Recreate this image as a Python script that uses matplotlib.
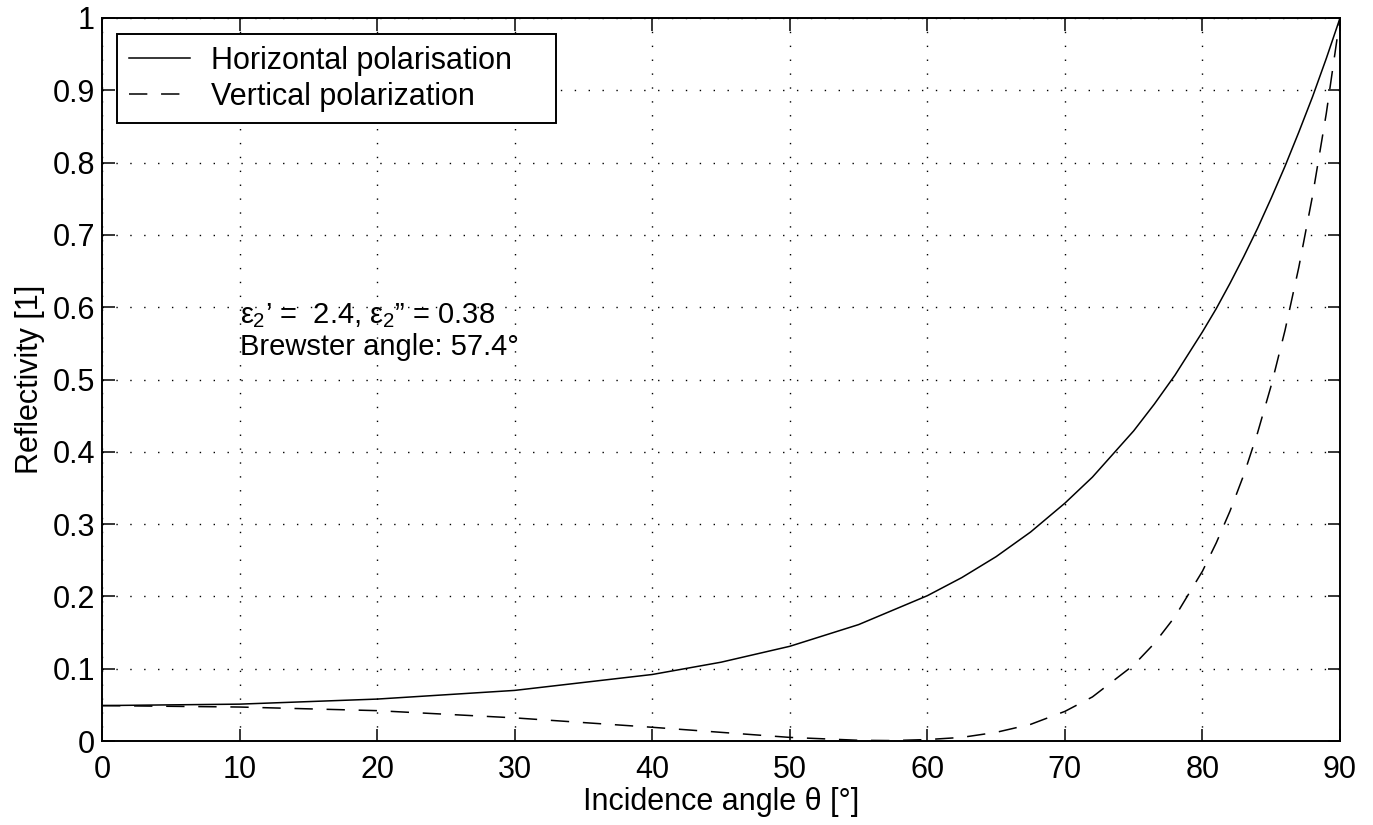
"""Reflectivity of a lossy dielectric vs incidence angle (MATLAB-style figure)."""
import matplotlib
matplotlib.use("Agg")
import matplotlib.pyplot as plt

# values
theta_h = [0, 10, 20, 30, 40, 45, 50, 55, 60, 62.5, 65, 67.5, 70, 72, 75, 76.5, 78,
           80, 81, 82, 83, 84, 85, 86, 87, 88, 89, 90]
refl_h = [0.049, 0.051, 0.058, 0.070, 0.092, 0.109, 0.131, 0.161, 0.201, 0.226,
          0.255, 0.289, 0.329, 0.365, 0.429, 0.466, 0.506, 0.566, 0.598, 0.633,
          0.670, 0.709, 0.751, 0.795, 0.842, 0.891, 0.944, 1.0]

theta_v = [0, 10, 20, 30, 40, 45, 50, 55, 57.4, 60, 62.5, 65, 67.5, 70, 72, 75,
           76.5, 78, 80, 81, 82, 83, 84, 85, 86, 87, 88, 89, 90]
refl_v = [0.049, 0.047, 0.042, 0.032, 0.019, 0.012, 0.005, 0.001, 0.0006, 0.002,
          0.005, 0.012, 0.023, 0.041, 0.061, 0.105, 0.135, 0.172, 0.235, 0.274,
          0.318, 0.368, 0.426, 0.492, 0.568, 0.655, 0.754, 0.868, 1.0]

xticks = [0, 10, 20, 30, 40, 50, 60, 70, 80, 90]
yticks = [0, 0.1, 0.2, 0.3, 0.4, 0.5, 0.6, 0.7, 0.8, 0.9, 1]
ytick_labels = ["0", "0.1", "0.2", "0.3", "0.4", "0.5", "0.6", "0.7", "0.8", "0.9", "1"]

plt.rcParams["font.family"] = ["Liberation Sans", "DejaVu Sans"]
plt.rcParams["mathtext.fontset"] = "custom"
plt.rcParams["mathtext.rm"] = "Liberation Sans"
plt.rcParams["mathtext.it"] = "Liberation Sans"

FS = 22

fig = plt.figure(figsize=(13.73, 8.25), dpi=100)
ax = fig.add_axes([0.0743, 0.1018, 0.9017, 0.8764])

ax.plot(theta_h, refl_h, color="black", lw=1.1, label="Horizontal polarisation")
ax.plot(theta_v, refl_v, color="black", lw=1.1, dashes=(12, 9),
        label="Vertical polarization")

ax.set_xlim(0, 90)
ax.set_ylim(0, 1)
ax.set_xticks(xticks)
ax.set_yticks(yticks)
ax.set_yticklabels(ytick_labels)
ax.grid(True, color="black", lw=1.0, linestyle=(0, (1, 9)))
ax.set_axisbelow(True)
ax.tick_params(direction="in", length=9, width=1.1, labelsize=FS,
               top=True, right=True)
ax.tick_params(axis="x", pad=10)
ax.tick_params(axis="y", pad=5)
for s in ax.spines.values():
    s.set_linewidth(1.4)

ax.set_xlabel("Incidence angle θ [°]", fontsize=FS)
ax.set_ylabel("Reflectivity [1]", fontsize=FS)
ax.xaxis.set_label_coords(0.5, -0.064)
ax.yaxis.set_label_coords(-0.046, 0.5)

ax.text(10, 0.578, r"$\varepsilon_2$’ =  2.4, $\varepsilon_2$” = 0.38",
        fontsize=21, va="baseline")
ax.text(10, 0.534, "Brewster angle: 57.4°", fontsize=21, va="baseline")

leg_w = (556 - 117) / 1238
leg = ax.legend(loc="upper left", bbox_to_anchor=(0.0121, 0.878, leg_w, 0.1),
                mode="expand", borderaxespad=0,
                fontsize=FS, fancybox=False, framealpha=1, edgecolor="black",
                handlelength=2.0, handletextpad=0.7, borderpad=0.38,
                labelspacing=0.2)
leg.get_frame().set_linewidth(1.4)

fig.savefig("out.png", dpi=100)
